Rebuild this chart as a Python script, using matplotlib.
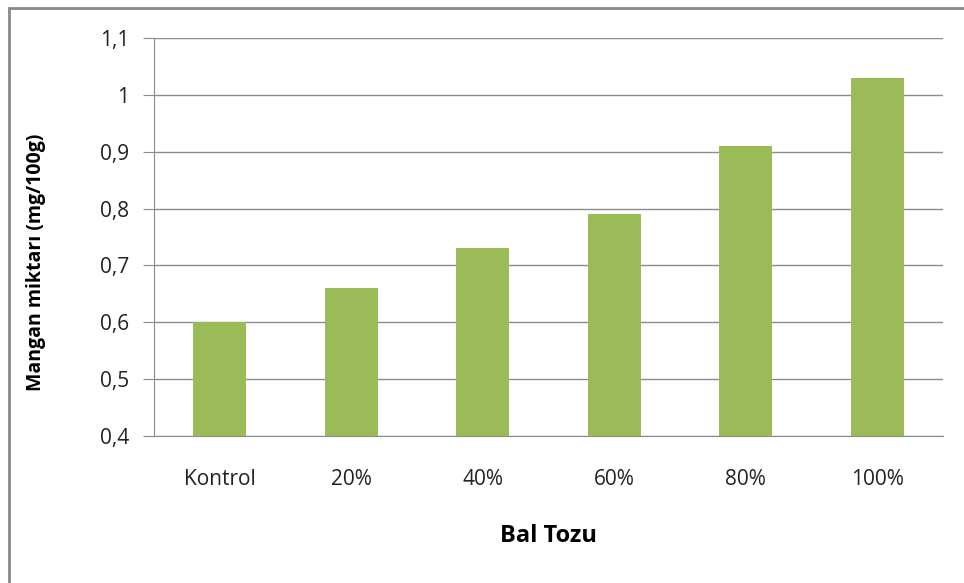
import matplotlib
matplotlib.use("Agg")
import matplotlib.pyplot as plt
from matplotlib.patches import Rectangle

categories = ["Kontrol", "20%", "40%", "60%", "80%", "100%"]
mangan = [0.60, 0.66, 0.73, 0.79, 0.91, 1.03]
yticks = [0.4, 0.5, 0.6, 0.7, 0.8, 0.9, 1.0, 1.1]
ytick_labels = ["0,4", "0,5", "0,6", "0,7", "0,8", "0,9", "1", "1,1"]

plt.rcParams["font.family"] = ["Open Sans", "DejaVu Sans"]

W, H = 964, 583
fig = plt.figure(figsize=(W / 100, H / 100), dpi=100)
ax = fig.add_axes([154 / W, 1 - 436 / H, (943 - 154) / W, (436 - 38) / H])

x = range(len(categories))
ax.bar(x, mangan, width=0.4, color="#9BBB59", zorder=3)

ax.set_xlim(-0.5, len(categories) - 0.5)
ax.set_ylim(0.4, 1.1)
ax.set_yticks(yticks)
ax.set_yticklabels(ytick_labels, fontsize=15, color="#222222")
ax.set_xticks(list(x))
ax.set_xticklabels(categories, fontsize=15, color="#222222")
ax.yaxis.grid(True, color="#8c8c8c", linewidth=1, zorder=0)
ax.tick_params(axis="x", length=0, pad=24)
ax.tick_params(axis="y", length=8, color="#8c8c8c", pad=10)

for side in ["top", "right"]:
    ax.spines[side].set_visible(False)
ax.spines["left"].set_color("#8c8c8c")
ax.spines["bottom"].set_color("#8c8c8c")

ax.set_ylabel("Mangan miktarı (mg/100g)", fontsize=14, fontweight="bold")
ax.yaxis.set_label_coords(-0.137, 0.437)
ax.set_xlabel("Bal Tozu", fontsize=17, fontweight="bold")
ax.xaxis.set_label_coords(0.5, -0.222)

# outer chart frame (only left/top edges fall inside the image)
fig.patches.append(Rectangle((9 / W, -0.05), 1.2, 1 - 8 / H + 0.05,
                             transform=fig.transFigure, fill=False,
                             edgecolor="#888888", linewidth=2))

fig.savefig("out.png", dpi=100)
